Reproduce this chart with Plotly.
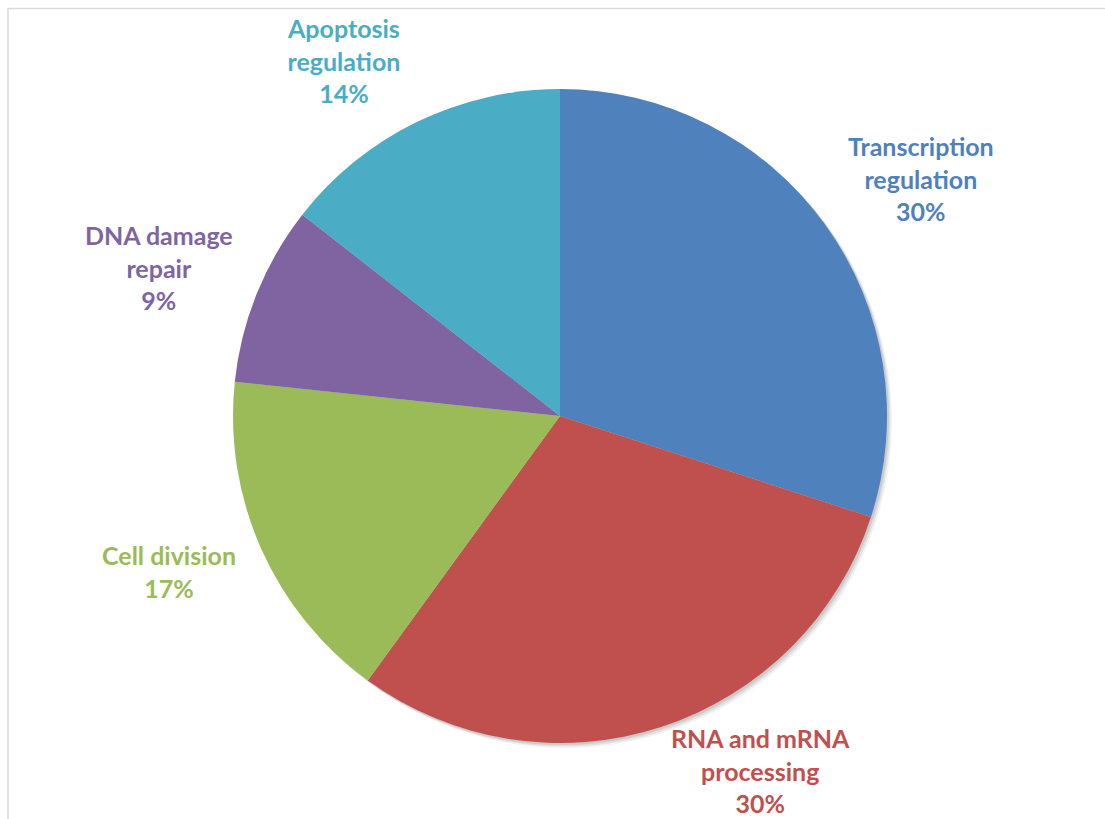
import plotly.graph_objects as go

# Gene function categories and their gene counts
categories = [
    "Transcription regulation",
    "RNA and mRNA processing",
    "Cell division",
    "DNA damage repair",
    "Apoptosis regulation",
]
counts = [27, 27, 15, 8, 13]
label_lines = [
    ["Transcription", "regulation"],
    ["RNA and mRNA", "processing"],
    ["Cell division"],
    ["DNA damage", "repair"],
    ["Apoptosis", "regulation"],
]
colors = ["#4F81BD", "#C0504D", "#9BBB59", "#8064A2", "#4BACC6"]

W, H = 1105, 819
cx, cy, R = 560, 416, 327  # pie centre / radius in pixels

total = sum(counts)
percents = [round(100 * c / total) for c in counts]

fig = go.Figure(
    go.Pie(
        labels=categories,
        values=counts,
        sort=False,
        direction="clockwise",
        rotation=0,
        marker=dict(colors=colors, line=dict(width=0)),
        textinfo="none",
        hoverinfo="label+percent",
        showlegend=False,
        domain=dict(
            x=[(cx - R) / W, (cx + R) / W],
            y=[(H - cy - R) / H, (H - cy + R) / H],
        ),
    )
)

# soft drop shadow behind the pie
for off, op in [(5, 0.05), (3.5, 0.07), (2, 0.09)]:
    fig.add_shape(
        type="circle",
        xref="paper",
        yref="paper",
        x0=(cx - R + off) / W,
        x1=(cx + R + off) / W,
        y0=1 - (cy + R + off) / H,
        y1=1 - (cy - R + off) / H,
        fillcolor=f"rgba(0,0,0,{op})",
        line=dict(width=0),
        layer="below",
    )

# label anchor points (pixel centres of each text block)
label_pos = [(921, 178), (760, 770), (169, 571), (159, 268), (343, 61)]

for lines, pct, col, (px, py) in zip(label_lines, percents, colors, label_pos):
    text = "<br>".join(lines + [f"{pct}%"])
    fig.add_annotation(
        x=px / W,
        y=1 - py / H,
        xref="paper",
        yref="paper",
        text=text,
        showarrow=False,
        align="center",
        xanchor="center",
        yanchor="middle",
        font=dict(family="Lato", size=25, color=col, weight="bold"),
    )

# chart area frame
fig.add_shape(
    type="rect",
    xref="paper",
    yref="paper",
    x0=8 / W,
    x1=1.02,
    y0=-0.02,
    y1=1 - 8.5 / H,
    line=dict(color="#D9D9D9", width=1.5),
    layer="below",
)

fig.update_layout(
    width=W,
    height=H,
    margin=dict(l=0, r=0, t=0, b=0),
    paper_bgcolor="white",
    plot_bgcolor="white",
)

fig.write_html("out.html")
